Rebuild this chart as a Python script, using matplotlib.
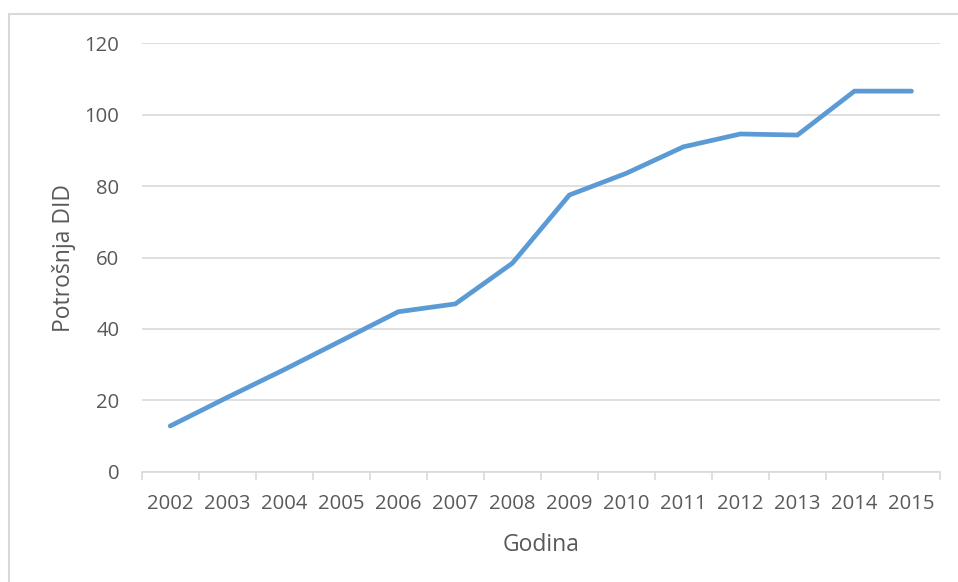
import matplotlib
matplotlib.use("Agg")
import matplotlib.pyplot as plt
from matplotlib.patches import Rectangle

years = ['2002', '2003', '2004', '2005', '2006', '2007', '2008',
         '2009', '2010', '2011', '2012', '2013', '2014', '2015']
did = [12.8, 20.8, 28.6, 36.7, 44.8, 47.0, 58.4,
       77.5, 83.6, 91.0, 94.6, 94.3, 106.6, 106.6]

plt.rcParams['font.family'] = ['Open Sans', 'DejaVu Sans']
grey = '#595959'

W, H = 958, 582
fig = plt.figure(figsize=(W / 100, H / 100), dpi=100)
ax = fig.add_axes([141.7 / W, 1 - 471.7 / H, (940 - 141.7) / W, (471.7 - 43.3) / H])

# chart frame (outer border)
fig.patches.append(Rectangle((8.5 / W, -0.1), 1.2, 1 - 13.5 / H + 0.1,
                             transform=fig.transFigure, fill=False,
                             edgecolor='#d9d9d9', linewidth=1.5))

x = range(len(years))
ax.plot(x, did, color='#5B9BD5', linewidth=3.4, solid_capstyle='round',
        solid_joinstyle='miter', zorder=3)

ax.set_xlim(-0.5, len(years) - 0.5)
ax.set_ylim(0, 120)
ax.set_yticks(range(0, 121, 20))
ax.set_xticks(list(x))
ax.set_xticklabels(years)
ax.set_xticks([i - 0.5 for i in range(len(years) + 1)], minor=True)

ax.grid(axis='y', color='#d9d9d9', linewidth=1.2)
ax.set_axisbelow(True)
for s in ['top', 'right', 'left']:
    ax.spines[s].set_visible(False)
ax.spines['bottom'].set_color('#d9d9d9')
ax.spines['bottom'].set_linewidth(1.2)

ax.tick_params(axis='x', which='major', length=0, pad=16, labelsize=14.6, labelcolor=grey)
ax.tick_params(axis='x', which='minor', length=6, width=1.2, color='#d9d9d9')
ax.tick_params(axis='y', length=0, pad=16, labelsize=14.6, labelcolor=grey)

ax.set_xlabel('Godina', fontsize=16.5, color=grey, labelpad=14)
ax.set_ylabel('Potrošnja DID', fontsize=16.5, color=grey, labelpad=6)

fig.savefig('out.png', dpi=100)
